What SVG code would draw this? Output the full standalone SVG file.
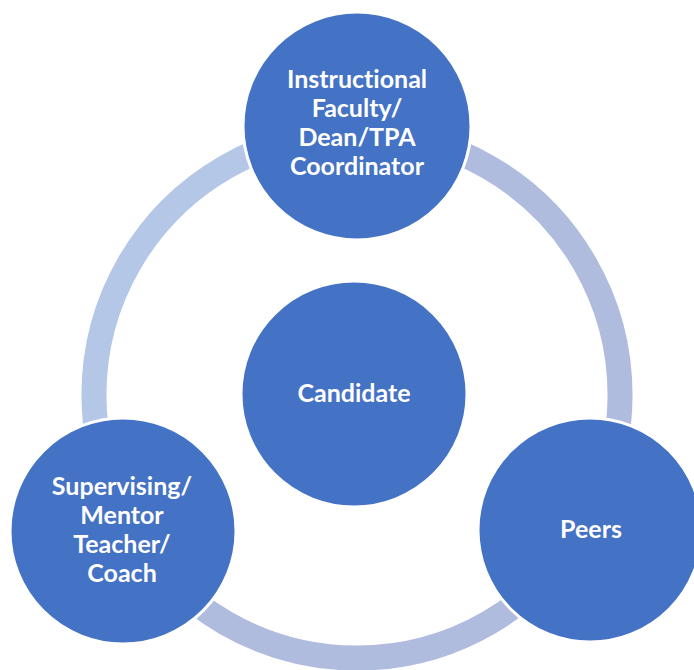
<svg xmlns="http://www.w3.org/2000/svg" width="694" height="670" viewBox="0 0 694 670">
<style>
.ring{fill:none;stroke-width:25}
.node{fill:#4472C4;stroke:#FFFFFF;stroke-width:3}
.lbl{font-family:Lato,"Open Sans","Liberation Sans",sans-serif;font-weight:bold;font-size:25px;fill:#FFFFFF;text-anchor:middle;font-variant-ligatures:none}
</style>
<rect width="694" height="670" fill="#FFFFFF"/>
<g id="connectors">
<path class="ring" stroke="#B4C7E7" d="M357,132 A263,263 0 0 0 129.2,526.5"/>
<path class="ring" stroke="#AFBCDE" d="M357,132 A263,263 0 0 1 584.8,526.5"/>
<path class="ring" stroke="#AFBCDE" d="M584.8,526.5 A263,263 0 0 1 129.2,526.5"/>
</g>
<g id="node-top">
<circle class="node" cx="357" cy="126" r="114"/>
<text class="lbl"><tspan x="357" y="88">Instructional</tspan><tspan x="357" y="117">Faculty/</tspan><tspan x="357" y="146">Dean/TPA</tspan><tspan x="357" y="175">Coordinator</tspan></text>
</g>
<g id="node-center">
<circle class="node" cx="354" cy="394" r="113"/>
<text class="lbl" x="354" y="402">Candidate</text>
</g>
<g id="node-left">
<circle class="node" cx="123" cy="531" r="113"/>
<text class="lbl"><tspan x="122" y="495">Supervising/</tspan><tspan x="122" y="524">Mentor</tspan><tspan x="122" y="553">Teacher/</tspan><tspan x="122" y="582">Coach</tspan></text>
</g>
<g id="node-right">
<circle class="node" cx="590" cy="530" r="112"/>
<text class="lbl" x="591" y="538">Peers</text>
</g>
</svg>
